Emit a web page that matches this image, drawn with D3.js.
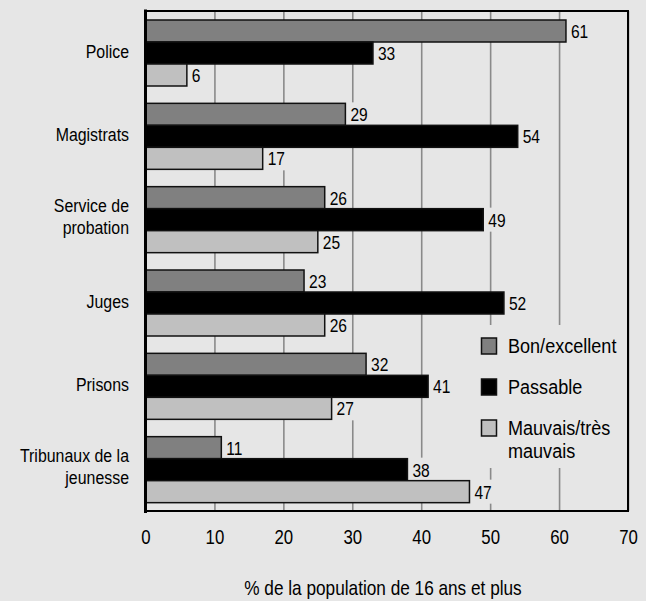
<!DOCTYPE html>
<html>
<head>
<meta charset="utf-8">
<script src="https://cdn.jsdelivr.net/npm/d3@7"></script>
<style>
  html, body { margin: 0; padding: 0; background: #e6e6e6; }
  svg { display: block; }
  text { font-family: "Liberation Sans", Arial, sans-serif; fill: #000; }
</style>
</head>
<body>
<svg id="chart" width="646" height="601"></svg>
<script>
const categories = ["Police", "Magistrats", "Service de\nprobation", "Juges", "Prisons", "Tribunaux de la\njeunesse"];
const series = ["Bon/excellent", "Passable", "Mauvais/très\nmauvais"];
const bonExcellent = [61, 29, 26, 23, 32, 11];
const passable = [33, 54, 49, 52, 41, 38];
const mauvais = [6, 17, 25, 26, 27, 47];
const xTicks = [0, 10, 20, 30, 40, 50, 60, 70];
const xTitle = "% de la population de 16 ans et plus";
const seriesColors = ["#808080", "#000000", "#c0c0c0"];

const values = [bonExcellent, passable, mauvais];
const bg = "#e6e6e6";
const svg = d3.select("#chart");

const x = d3.scaleLinear().domain([0, 70]).range([145.5, 628]);
const y = d3.scaleBand().domain(categories).range([11, 511]);
const yInner = d3.scaleBand().domain(series).range([9, 75]);

svg.append("rect").attr("width", 646).attr("height", 601).attr("fill", bg);

// helper: condensed (possibly multi-line) text as one text element
function ctext(parent, tx, ty, str, size, sx, anchor, lineH) {
  const g = parent.append("g").attr("transform", `translate(${tx},${ty}) scale(${sx},1)`);
  const t = g.append("text").attr("x", 0).attr("y", 0)
    .attr("font-size", size).attr("text-anchor", anchor || "start");
  const lines = str.split("\n");
  if (lines.length === 1) {
    t.text(str);
  } else {
    lines.forEach((ln, i) => {
      t.append("tspan").attr("x", 0).attr("dy", i === 0 ? 0 : lineH).text(ln);
    });
  }
  return t;
}

// gridlines + tick labels through axis
const axisG = svg.append("g").attr("transform", "translate(0,511)")
  .call(d3.axisBottom(x).tickValues(xTicks).tickSize(-500).tickPadding(18));
axisG.select(".domain").remove();
axisG.selectAll(".tick line").attr("stroke", "#8a8a8a").attr("stroke-width", 1.6);
axisG.selectAll(".tick text")
  .attr("font-size", 20.5)
  .attr("font-family", '"Liberation Sans", Arial, sans-serif')
  .attr("fill", "#000")
  .attr("transform", "scale(0.82,1)");

// label backgrounds layer, bars layer, label text layer
const bgLayer = svg.append("g");
const barLayer = svg.append("g");
const lblLayer = svg.append("g");

const valSize = 19, valScale = 0.82;
categories.forEach((cat, ci) => {
  series.forEach((s, si) => {
    const v = values[si][ci];
    const y0 = y(cat) + yInner(s);
    const h = yInner.bandwidth();
    barLayer.append("rect")
      .attr("x", x(0)).attr("y", y0)
      .attr("width", x(v) - x(0)).attr("height", h)
      .attr("fill", seriesColors[si])
      .attr("stroke", "#111").attr("stroke-width", 1.5);
    const cy = y0 + h / 2;
    const t = ctext(lblLayer, x(v) + 5, cy + 7, String(v), valSize, valScale, "start");
    const w = t.node().getComputedTextLength() * valScale;
    bgLayer.append("rect")
      .attr("x", x(v) + 1).attr("y", cy - 12)
      .attr("width", w + 8).attr("height", 24)
      .attr("fill", bg);
  });
});

// category labels
categories.forEach(cat => {
  const n = cat.split("\n").length;
  const c = y(cat) + y.bandwidth() / 2;
  ctext(svg, 129, n === 1 ? c + 5 : c - 7, cat, 18.5, 0.86, "end", 21.5);
});

// legend
const lg = svg.append("g");
lg.append("rect").attr("x", 470).attr("y", 325).attr("width", 156).attr("height", 143).attr("fill", bg);
const legendY = d3.scalePoint().domain(series).range([346, 428]);
series.forEach((s, si) => {
  const cy = legendY(s);
  lg.append("rect").attr("x", 481.5).attr("y", cy - 8).attr("width", 15).attr("height", 16)
    .attr("fill", seriesColors[si]).attr("stroke", "#111").attr("stroke-width", 1.5);
  ctext(lg, 508, cy + 7, s, 21, 0.86, "start", 23.5);
});

// frame / axes
svg.append("line").attr("x1", 145.5).attr("x2", 629).attr("y1", 11).attr("y2", 11)
  .attr("stroke", "#000").attr("stroke-width", 2);
svg.append("line").attr("x1", 628).attr("x2", 628).attr("y1", 10).attr("y2", 512)
  .attr("stroke", "#000").attr("stroke-width", 2);
svg.append("line").attr("x1", 145.5).attr("x2", 629).attr("y1", 511).attr("y2", 511)
  .attr("stroke", "#000").attr("stroke-width", 2);
svg.append("line").attr("x1", 145.5).attr("x2", 145.5).attr("y1", 9.5).attr("y2", 513)
  .attr("stroke", "#000").attr("stroke-width", 3);

// x title
ctext(svg, 383, 595, xTitle, 21, 0.82, "middle");
</script>
</body>
</html>
